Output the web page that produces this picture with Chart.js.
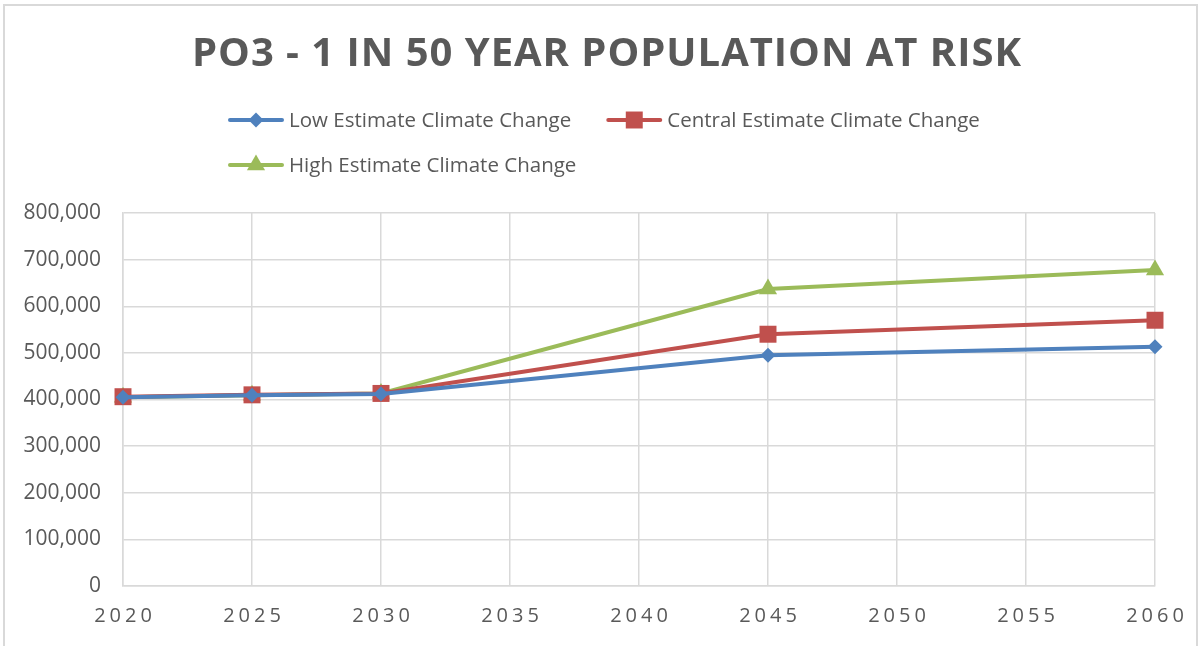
<!DOCTYPE html>
<html>
<head>
<meta charset="utf-8">
<script src="https://cdn.jsdelivr.net/npm/chart.js@4.4.1/dist/chart.umd.min.js"></script>
<style>
  html, body { margin: 0; padding: 0; background: #fff; }
  #wrap { position: relative; width: 1203px; height: 646px; overflow: hidden; }
  #frame { position: absolute; left: 3px; top: 4px; width: 1195px; height: 700px; border: 2px solid #d9d9d9; box-sizing: border-box; }
  canvas { position: absolute; left: 0; top: 0; }
</style>
</head>
<body>
<div id="wrap">
  <div id="frame"></div>
  <canvas id="line-chart" width="1203" height="646"></canvas>
</div>
<script>
// ---- data ----
var years = [2020, 2025, 2030, 2045, 2060];
var lowEstimate = [405000, 409000, 412000, 495000, 513000];
var centralEstimate = [406000, 410000, 413000, 540000, 570000];
var highEstimate = [405000, 409000, 413000, 637000, 678000];
var seriesNames = ["Low Estimate Climate Change", "Central Estimate Climate Change", "High Estimate Climate Change"];
var chartTitle = "PO3 - 1 IN 50 YEAR POPULATION AT RISK";

var colors = ["#4f81bd", "#c0504d", "#9bbb59"];
var pointStyles = ["rectRot", "rect", "triangle"];
var pointSizes = [7.5, 12, 10.5];
var textColor = "#595959";
var gridColor = "#d9d9d9";
var fontFamily = "'Open Sans', 'DejaVu Sans', sans-serif";

function toPoints(values) {
    return years.map(function (y, i) { return { x: y, y: values[i] }; });
}

var allSeries = [lowEstimate, centralEstimate, highEstimate];
var datasets = allSeries.map(function (values, i) {
    return {
        label: seriesNames[i],
        data: toPoints(values),
        borderColor: colors[i],
        backgroundColor: colors[i],
        borderWidth: 4,
        pointStyle: pointStyles[i],
        pointRadius: pointSizes[i],
        pointHoverRadius: pointSizes[i],
        pointBorderWidth: 0,
        tension: 0,
        clip: false
    };
});

/*--------------------------------
    Title + legend drawn by hand
----------------------------------*/
var headerPlugin = {
    id: 'header',
    afterDraw: function (chart) {
        var ctx = chart.ctx;
        ctx.save();
        // title, spaced out to the reference width
        ctx.font = "bold 40px " + fontFamily;
        ctx.fillStyle = textColor;
        ctx.textBaseline = "middle";
        ctx.textAlign = "left";
        var plain = ctx.measureText(chartTitle).width;
        var targetWidth = 829;
        var spacing = (targetWidth - plain) / (chartTitle.length - 1);
        ctx.letterSpacing = spacing + "px";
        ctx.fillText(chartTitle, 192, 55);
        ctx.letterSpacing = "0px";

        // legend
        ctx.font = "20.5px " + fontFamily;
        var rows = [[0, 1], [2]];
        var rowY = [120, 165];
        rows.forEach(function (row, r) {
            var x = 230;
            row.forEach(function (i) {
                var y = rowY[r];
                ctx.strokeStyle = colors[i];
                ctx.lineWidth = 4;
                ctx.lineCap = "round";
                ctx.beginPath();
                ctx.moveTo(x, y);
                ctx.lineTo(x + 52, y);
                ctx.stroke();
                ctx.fillStyle = colors[i];
                Chart.helpers.drawPoint(ctx, {
                    pointStyle: pointStyles[i],
                    radius: pointSizes[i],
                    rotation: 0,
                    borderWidth: 0
                }, x + 26, y);
                ctx.fillStyle = textColor;
                ctx.fillText(seriesNames[i], x + 59, y + 1);
                x += 59 + ctx.measureText(seriesNames[i]).width + 37;
            });
        });
        ctx.restore();
    }
};

// spaced out year labels on the x axis
var spacedTicksPlugin = {
    id: 'spacedTicks',
    afterLayout: function (chart) {
        var scale = chart.scales.x;
        if (scale._spaced) return;
        var orig = scale.drawLabels;
        scale.drawLabels = function (area) {
            this.ctx.save();
            this.ctx.letterSpacing = "4px";
            this.ctx.translate(2, 0);
            orig.call(this, area);
            this.ctx.restore();
        };
        scale._spaced = true;
    }
};

var lineChart = new Chart(document.getElementById("line-chart"), {
    type: 'line',
    data: { datasets: datasets },
    plugins: [headerPlugin, spacedTicksPlugin],
    options: {
        responsive: false,
        animation: false,
        layout: {
            padding: { top: 213, left: 10, right: 48, bottom: 10 }
        },
        plugins: {
            legend: { display: false },
            title: { display: false },
            tooltip: { enabled: false }
        },
        scales: {
            x: {
                type: 'linear',
                min: 2020,
                max: 2060,
                afterFit: function (s) { s.height = 50; },
                ticks: {
                    stepSize: 5,
                    color: textColor,
                    padding: 18,
                    font: { family: fontFamily, size: 20 },
                    callback: function (v) { return String(v); }
                },
                grid: { color: gridColor, lineWidth: 1.5, drawTicks: false },
                border: { color: gridColor, width: 1.5 }
            },
            y: {
                min: 0,
                max: 800000,
                afterFit: function (s) { s.width = 113; },
                ticks: {
                    stepSize: 100000,
                    color: textColor,
                    padding: 22,
                    font: { family: fontFamily, size: 21 },
                    callback: function (v) { return v.toLocaleString('en-US'); }
                },
                grid: { color: gridColor, lineWidth: 1.5, drawTicks: false },
                border: { color: gridColor, width: 1.5 }
            }
        }
    }
});
</script>
</body>
</html>
